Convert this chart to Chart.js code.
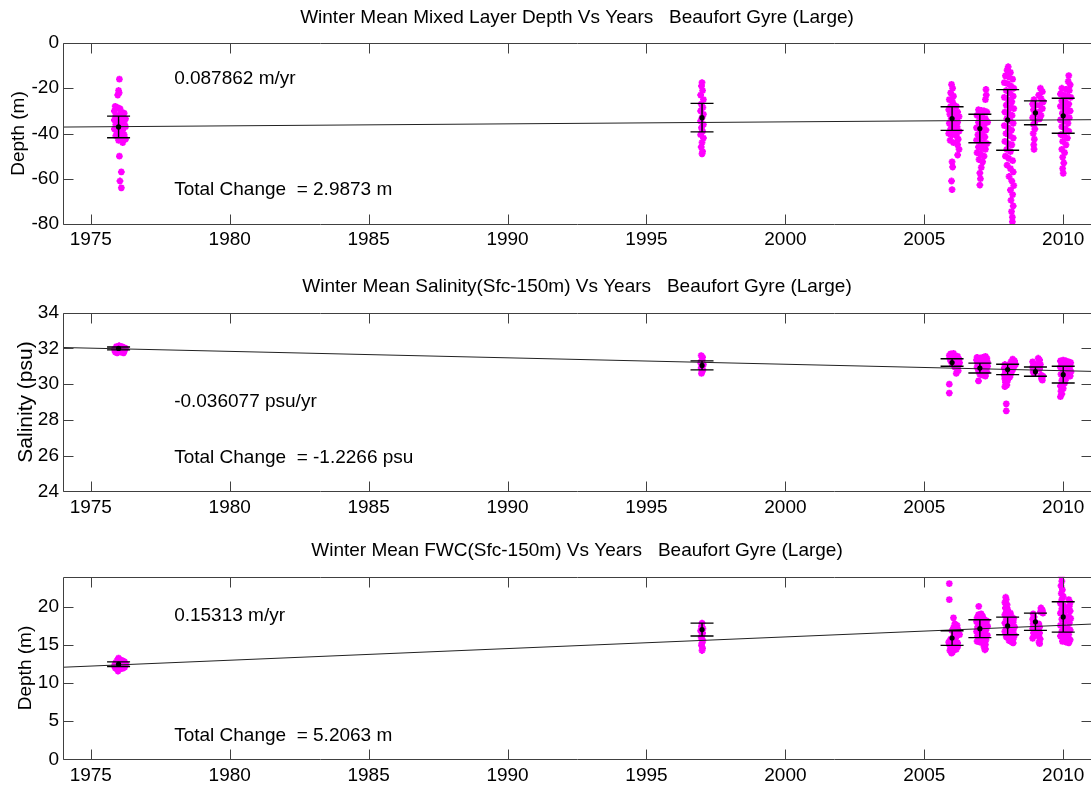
<!DOCTYPE html>
<html><head><meta charset="utf-8">
<script src="https://cdn.jsdelivr.net/npm/chart.js@4.4.1/dist/chart.umd.min.js"></script>
<style>
html,body{margin:0;padding:0;background:#fff;overflow:hidden;}
#wrap{position:relative;width:1091px;height:787px;overflow:hidden;background:#fff;}
canvas{position:absolute;left:0;top:0;}
</style></head><body>
<div id="wrap">
<canvas id="c1" width="1100" height="787"></canvas>
<canvas id="c2" width="1100" height="787"></canvas>
<canvas id="c3" width="1100" height="787"></canvas>
</div>
<script>
// ---------- shared ----------
const xTickValues = [1975,1980,1985,1990,1995,2000,2005,2010];
const meanYears = [1976.0,1997.0,2006.0,2007.0,2008.0,2009.0,2010.0];

// ---------- Mixed layer depth ----------
const mldTitle = 'Winter Mean Mixed Layer Depth Vs Years   Beaufort Gyre (Large)';
const mldYLabel = 'Depth (m)';
const mldTicks = [0,-20,-40,-60,-80];
const mldRateText = '0.087862 m/yr';
const mldTotalText = 'Total Change  = 2.9873 m';
const mldTrendX = [1974, 2011];
const mldTrendY = [-37.15, -33.90];
const mldMean = [-37.1,-33.0,-33.4,-37.8,-34.0,-30.85,-32.15];
const mldStd  = [4.8,6.3,5.2,6.3,13.4,5.25,7.75];
const mld1976 = [[1976.03,-16],[1976.0,-21],[1976.02,-22],[1975.97,-23],[1975.88,-28],[1975.95,-28.5],[1976.05,-29],[1975.85,-30],[1976.1,-30.5],[1976.2,-31],[1975.9,-32],[1976.0,-32],[1976.15,-33],[1976.25,-33.5],[1975.85,-34],[1975.95,-34.5],[1976.05,-35],[1976.2,-35.5],[1975.9,-36],[1976.1,-36.5],[1976.25,-37],[1975.85,-38],[1976.0,-38],[1976.15,-38.5],[1975.95,-39.5],[1976.05,-40],[1976.2,-40.5],[1975.9,-41],[1976.1,-42],[1976.25,-42.5],[1976.0,-43],[1976.15,-44],[1976.03,-50],[1976.1,-57],[1976.05,-61],[1976.1,-64]];
const mld1998 = [[1997.0,-17.5],[1996.98,-19],[1997.02,-21],[1996.95,-23],[1997.05,-25],[1996.97,-27],[1997.03,-28.5],[1996.95,-30],[1997.05,-31.5],[1997.0,-33],[1996.95,-34.5],[1997.05,-36],[1996.98,-37.5],[1997.02,-39],[1996.95,-40.5],[1997.05,-42],[1997.0,-44],[1996.97,-46],[1997.02,-48],[1997.0,-49]];
const mld2006 = [[2005.98,-18.3],[2006.02,-20],[2005.95,-22],[2006.05,-23.5],[2005.9,-25],[2006.0,-25.5],[2006.05,-27],[2005.95,-28],[2006.15,-28],[2005.88,-29.5],[2006.02,-30],[2006.2,-30.5],[2005.92,-31.5],[2006.08,-32],[2006.25,-32.5],[2005.97,-33.5],[2006.12,-34],[2006.2,-35],[2005.9,-35.5],[2006.03,-36],[2006.18,-37],[2005.95,-38],[2006.1,-38.5],[2006.25,-39],[2005.88,-40],[2006.0,-40.5],[2006.15,-41],[2006.22,-42.5],[2005.93,-43],[2006.05,-44],[2006.2,-45],[2006.25,-47],[2006.2,-49.5],[2006.0,-52.5],[2006.02,-54.8],[2005.98,-61],[2006.0,-64.8]];
const mld2007 = [[2007.22,-20.5],[2007.23,-23],[2007.2,-25],[2006.95,-29.5],[2007.05,-29.8],[2007.15,-30],[2007.25,-30.5],[2006.9,-32],[2007.0,-32.5],[2007.1,-33],[2007.2,-33.5],[2006.95,-35],[2007.05,-35.5],[2007.28,-35],[2007.15,-36.5],[2006.88,-37.5],[2007.0,-38],[2007.22,-38.5],[2007.1,-39.5],[2006.93,-40.5],[2007.05,-41],[2007.18,-41.5],[2006.88,-43],[2007.0,-43.5],[2007.12,-44],[2007.25,-44.5],[2006.95,-46],[2007.08,-46.5],[2007.2,-47],[2006.9,-48.5],[2007.02,-49],[2007.15,-50],[2006.97,-51.5],[2007.1,-52.5],[2007.05,-55],[2007.0,-57.5],[2007.02,-60],[2007.0,-62.8]];
const mld2008 = [[2008.02,-10.5],[2007.98,-12],[2008.1,-13],[2007.92,-14.5],[2008.05,-15],[2008.18,-16],[2007.88,-17.5],[2008.0,-18],[2008.12,-19],[2008.22,-20],[2007.95,-21],[2008.08,-22],[2008.2,-23.5],[2007.88,-24],[2008.02,-25],[2008.15,-26],[2007.95,-27.5],[2008.1,-28.5],[2008.22,-29],[2007.9,-30.5],[2008.03,-31],[2008.16,-32],[2007.97,-33.5],[2008.1,-34.5],[2008.2,-35.5],[2007.88,-36.5],[2008.02,-37.5],[2008.14,-38.5],[2007.94,-40],[2008.08,-41],[2008.2,-42],[2007.9,-43.5],[2008.03,-44.5],[2008.15,-45],[2007.97,-47],[2008.1,-48],[2007.92,-50],[2008.04,-51],[2008.18,-52],[2007.98,-54],[2008.1,-55.5],[2008.2,-57],[2008.05,-59],[2008.15,-61],[2008.22,-63],[2008.1,-65],[2008.18,-67],[2008.12,-69.5],[2008.2,-72],[2008.14,-74.5],[2008.17,-77],[2008.17,-79]];
const mld2009 = [[2009.18,-20],[2009.25,-21.5],[2009.12,-23],[2009.2,-24.5],[2009.28,-26],[2008.95,-25],[2008.9,-27],[2009.0,-27.5],[2009.15,-27.5],[2009.25,-29],[2008.93,-29.5],[2009.12,-30.5],[2008.98,-31.5],[2009.2,-32],[2008.9,-33],[2009.15,-33.5],[2009.0,-34.5],[2008.93,-36],[2008.98,-38],[2008.92,-40],[2008.96,-42.5],[2008.94,-45],[2008.95,-47]];
const mld2010 = [[2010.2,-14.4],[2010.18,-17],[2010.25,-18.5],[2009.95,-20],[2010.1,-20.5],[2010.22,-21],[2009.9,-22.5],[2010.02,-23],[2010.15,-23.5],[2010.27,-24],[2009.95,-25.5],[2010.08,-26],[2010.2,-27],[2009.9,-28],[2010.03,-28.5],[2010.15,-29.5],[2010.25,-30],[2009.97,-31],[2010.1,-32],[2010.22,-33],[2009.9,-34],[2010.03,-34.5],[2010.17,-35.5],[2009.95,-37],[2010.08,-38],[2010.2,-39],[2009.92,-40.5],[2010.04,-41],[2010.15,-42],[2009.98,-43.5],[2010.1,-45],[2009.95,-47],[2010.05,-48.5],[2009.98,-50.5],[2010.02,-53],[2009.98,-55.5],[2010.0,-57.6]];

// ---------- Salinity ----------
const salTitle = 'Winter Mean Salinity(Sfc-150m) Vs Years   Beaufort Gyre (Large)';
const salYLabel = 'Salinity (psu)';
const salTicks = [34,32,30,28,26,24];
const salRateText = '-0.036077 psu/yr';
const salTotalText = 'Total Change  = -1.2266 psu';
const salTrendX = [1974, 2011];
const salTrendY = [32.05, 30.715];
const salMean = [32.0,31.05,31.21,30.9,30.82,30.7,30.53];
const salStd  = [0.08,0.25,0.21,0.275,0.29,0.26,0.47];
const sal1976 = [[1975.88,31.8],[1975.95,31.85],[1976.05,31.9],[1976.15,31.85],[1976.22,31.9],[1975.9,32.0],[1976.0,32.05],[1976.1,32.0],[1976.2,32.05],[1975.95,31.75],[1976.08,31.8],[1976.18,31.75],[1975.85,31.95],[1976.25,32.0],[1976.02,32.15],[1976.12,32.1],[1975.92,32.1]];
const sal1998 = [[1996.97,31.6],[1997.02,31.5],[1997.0,31.35],[1996.95,31.2],[1997.05,31.1],[1997.0,31.0],[1996.97,30.9],[1997.03,30.8],[1997.0,30.7],[1996.98,30.6]];
const sal2006 = [[2005.95,31.7],[2006.05,31.72],[2005.9,31.6],[2006.0,31.58],[2006.12,31.6],[2006.2,31.55],[2005.92,31.45],[2006.05,31.45],[2006.15,31.42],[2006.25,31.4],[2005.95,31.3],[2006.1,31.28],[2006.2,31.25],[2006.27,31.2],[2006.0,31.15],[2006.15,31.1],[2006.22,31.05],[2006.1,30.95],[2006.18,30.9],[2006.22,30.75],[2006.15,30.6],[2005.9,30.0],[2005.9,29.5]];
const sal2007 = [[2006.9,31.5],[2007.0,31.45],[2007.1,31.5],[2007.2,31.55],[2007.25,31.45],[2006.88,31.35],[2006.98,31.3],[2007.08,31.35],[2007.18,31.3],[2007.27,31.25],[2006.92,31.15],[2007.02,31.1],[2007.12,31.15],[2007.22,31.1],[2006.9,30.95],[2007.0,30.9],[2007.1,30.95],[2007.2,30.9],[2007.28,31.0],[2006.95,30.75],[2007.05,30.7],[2007.15,30.75],[2007.25,30.7],[2007.0,30.55],[2007.1,30.5],[2007.2,30.45],[2006.95,30.18]];
const sal2008 = [[2008.18,31.4],[2008.25,31.3],[2008.12,31.25],[2008.2,31.15],[2008.28,31.1],[2007.9,31.1],[2008.0,31.05],[2008.1,31.0],[2008.22,30.95],[2007.88,30.9],[2007.98,30.85],[2008.08,30.8],[2008.18,30.8],[2007.92,30.7],[2008.02,30.65],[2008.12,30.6],[2007.88,30.5],[2007.98,30.45],[2008.08,30.4],[2007.9,30.3],[2008.0,30.2],[2007.92,30.1],[2007.97,29.95],[2007.9,29.86],[2007.95,28.9],[2007.95,28.5]];
const sal2009 = [[2008.9,31.25],[2008.95,31.1],[2008.9,30.95],[2008.97,30.85],[2008.92,30.7],[2008.95,30.6],[2009.1,31.45],[2009.15,31.35],[2009.12,31.2],[2009.18,31.1],[2009.1,30.95],[2009.15,30.85],[2009.2,30.5],[2009.27,30.45],[2009.22,30.3],[2009.25,30.22]];
const sal2010 = [[2009.9,31.3],[2010.0,31.35],[2010.1,31.3],[2010.2,31.25],[2010.27,31.2],[2009.95,31.15],[2010.05,31.1],[2010.15,31.05],[2010.25,31.0],[2009.9,30.95],[2010.0,30.9],[2010.1,30.85],[2010.22,30.8],[2010.28,30.7],[2010.05,30.6],[2010.15,30.55],[2010.25,30.45],[2009.92,30.55],[2010.0,30.4],[2010.1,30.3],[2009.95,30.2],[2010.05,30.05],[2009.9,29.9],[2010.0,29.75],[2009.92,29.6],[2009.95,29.45],[2009.9,29.3]];

// ---------- Freshwater content ----------
const fwcTitle = 'Winter Mean FWC(Sfc-150m) Vs Years   Beaufort Gyre (Large)';
const fwcYLabel = 'Depth (m)';
const fwcTicks = [0,5,10,15,20];
const fwcRateText = '0.15313 m/yr';
const fwcTotalText = 'Total Change  = 5.2063 m';
const fwcTrendX = [1974, 2011];
const fwcTrendY = [12.1, 17.77];
const fwcMean = [12.5,17.05,15.94,17.17,17.53,18.08,18.71];
const fwcStd  = [0.3,0.85,0.96,1.18,1.155,1.13,1.99];
const fwc1976 = [[1975.88,12.0],[1975.95,11.9],[1976.05,11.85],[1976.15,11.95],[1976.22,12.1],[1975.85,12.3],[1975.92,12.4],[1976.0,12.3],[1976.1,12.45],[1976.2,12.35],[1976.27,12.5],[1975.9,12.7],[1976.02,12.75],[1976.12,12.7],[1976.22,12.8],[1975.95,13.0],[1976.05,13.1],[1976.15,12.95],[1976.0,13.3],[1975.98,11.6]];
const fwc1998 = [[1997.0,17.9],[1996.98,17.5],[1997.03,17.2],[1996.95,16.9],[1997.02,16.6],[1997.0,16.3],[1996.97,16.0],[1997.03,15.6],[1997.0,15.3],[1996.98,15.0],[1997.02,14.6],[1997.0,14.3]];
const fwc2006 = [[2005.9,23.1],[2005.9,21.0],[2006.05,18.6],[2006.1,17.8],[2006.18,17.6],[2006.05,17.3],[2006.15,17.2],[2006.22,17.0],[2006.0,16.9],[2006.1,16.7],[2006.2,16.6],[2006.27,16.4],[2006.05,16.2],[2006.15,16.1],[2005.95,15.8],[2006.05,15.6],[2006.12,15.5],[2006.2,15.3],[2005.88,15.4],[2005.9,15.1],[2006.0,15.0],[2006.1,14.9],[2006.2,14.8],[2005.95,14.6],[2006.05,14.5],[2006.15,14.45],[2005.92,14.3],[2006.02,14.1],[2005.98,13.95]];
const fwc2007 = [[2006.96,20.1],[2006.95,19.0],[2007.05,19.1],[2007.1,18.8],[2006.9,18.6],[2007.0,18.5],[2007.15,18.4],[2007.25,18.2],[2006.88,18.1],[2006.98,17.9],[2007.08,17.8],[2007.2,17.7],[2007.28,17.5],[2006.92,17.4],[2007.02,17.3],[2007.12,17.2],[2007.22,17.0],[2006.88,16.8],[2006.98,16.7],[2007.08,16.6],[2007.18,16.5],[2007.27,16.3],[2006.92,16.2],[2007.02,16.0],[2007.12,15.9],[2007.22,15.7],[2006.9,15.5],[2007.0,15.4],[2007.1,15.3],[2007.2,15.1],[2007.15,14.8],[2007.2,14.5],[2007.18,14.4]];
const fwc2008 = [[2007.93,21.3],[2007.95,21.0],[2007.9,20.6],[2007.98,20.3],[2007.92,19.9],[2008.0,19.7],[2007.95,19.4],[2008.1,19.2],[2007.9,19.0],[2008.02,18.8],[2008.15,18.7],[2008.22,18.5],[2007.95,18.4],[2008.08,18.2],[2008.2,18.0],[2007.9,17.9],[2008.03,17.7],[2008.15,17.6],[2008.25,17.4],[2007.95,17.3],[2008.08,17.1],[2008.2,16.9],[2007.9,16.8],[2008.02,16.6],[2008.15,16.5],[2008.25,16.3],[2007.95,16.1],[2008.1,16.0],[2008.2,15.8],[2008.05,15.6],[2008.15,15.4],[2008.2,15.3]];
const fwc2009 = [[2008.92,19.1],[2008.95,18.7],[2008.9,18.4],[2008.97,18.1],[2008.92,17.8],[2008.95,17.5],[2008.9,17.2],[2008.97,16.9],[2008.93,16.6],[2008.95,16.2],[2008.9,15.9],[2009.2,19.9],[2009.25,19.6],[2009.18,19.4],[2009.27,19.2],[2009.12,17.8],[2009.15,17.4],[2009.1,17.0],[2009.15,16.6],[2009.12,16.2],[2009.17,15.8],[2009.13,15.4],[2009.15,15.2]];
const fwc2010 = [[2009.93,24.1],[2009.95,23.4],[2009.92,22.8],[2009.97,22.3],[2009.93,21.8],[2010.0,21.4],[2009.95,21.0],[2010.2,21.0],[2010.25,20.6],[2009.9,20.5],[2010.02,20.2],[2010.22,20.1],[2009.95,19.8],[2010.1,19.6],[2010.25,19.5],[2009.9,19.2],[2010.05,19.0],[2010.2,18.8],[2010.27,18.5],[2009.95,18.4],[2010.1,18.2],[2010.22,17.9],[2009.9,17.6],[2010.02,17.4],[2010.15,17.2],[2010.25,17.0],[2009.95,16.8],[2010.08,16.6],[2010.2,16.4],[2009.9,16.2],[2010.02,16.0],[2010.15,15.9],[2010.25,15.7],[2009.97,15.5],[2010.1,15.4],[2010.2,15.3]];

// ---------- drawing ----------
const FONT = '"Liberation Sans", Arial, Helvetica, sans-serif';
const FS = 19;

const matlabAxes = {
  id: 'matlabAxes',
  afterDatasetsDraw(chart) {
    const o = chart.options.plugins.matlabAxes;
    const {ctx, chartArea: a} = chart;
    const xs = chart.scales.x, ys = chart.scales.y;
    ctx.save();
    // error bars
    ctx.strokeStyle = '#000';
    ctx.lineWidth = 1.4;
    ctx.beginPath();
    o.meanX.forEach((mx, i) => {
      const px = xs.getPixelForValue(mx);
      const t = ys.getPixelForValue(o.mean[i] + o.std[i]);
      const b = ys.getPixelForValue(o.mean[i] - o.std[i]);
      ctx.moveTo(px, t); ctx.lineTo(px, b);
      ctx.moveTo(px - 11.5, t); ctx.lineTo(px + 11.5, t);
      ctx.moveTo(px - 11.5, b); ctx.lineTo(px + 11.5, b);
    });
    ctx.stroke();
    // box and ticks
    ctx.strokeStyle = '#404040';
    ctx.lineWidth = 1;
    ctx.beginPath();
    const L = Math.round(a.left) + 0.5, R = Math.round(a.right) + 0.5;
    const T = Math.round(a.top) + 0.5, B = Math.round(a.bottom) + 0.5;
    ctx.rect(L, T, R - L, B - T);
    xs.ticks.forEach(tk => {
      const p = Math.round(xs.getPixelForValue(tk.value)) + 0.5;
      ctx.moveTo(p, B); ctx.lineTo(p, B - 10);
      ctx.moveTo(p, T); ctx.lineTo(p, T + 10);
    });
    ys.ticks.forEach(tk => {
      const p = Math.round(ys.getPixelForValue(tk.value)) + 0.5;
      ctx.moveTo(L, p); ctx.lineTo(L + 10, p);
      ctx.moveTo(R, p); ctx.lineTo(R - 10, p);
    });
    ctx.stroke();
    // annotations
    ctx.fillStyle = '#000';
    ctx.font = FS + 'px ' + FONT;
    ctx.textBaseline = 'middle';
    ctx.textAlign = 'left';
    o.notes.forEach(n => ctx.fillText(n.text, xs.getPixelForValue(n.x), ys.getPixelForValue(n.y)));
    // title
    ctx.textAlign = 'center';
    ctx.fillText(o.title, (a.left + a.right) / 2, a.top - 25.5);
    ctx.restore();
  }
};

function pts(groups) {
  const out = [];
  groups.forEach(g => g.forEach(p => out.push({x: p[0], y: p[1]})));
  return out;
}

function makeChart(id, s) {
  return new Chart(document.getElementById(id), {
    type: 'scatter',
    plugins: [matlabAxes],
    data: {
      datasets: [
        { data: meanYears.map((x, i) => ({x, y: s.mean[i]})), pointStyle: 'circle', pointRadius: 2.6,
          backgroundColor: '#000', borderColor: '#000', borderWidth: 0 },
        { data: s.trendX.map((x, i) => ({x, y: s.trendY[i]})), showLine: true, borderColor: '#222',
          borderWidth: 1, pointRadius: 0, fill: false },
        { data: pts(s.points), pointStyle: 'star', pointRadius: 3.4, borderColor: '#ff00ff',
          backgroundColor: '#ff00ff', borderWidth: 2 }
      ]
    },
    options: {
      responsive: false, animation: false, devicePixelRatio: 1,
      events: [],
      layout: { padding: { top: s.padTop, bottom: s.padBottom, left: 0, right: 9 } },
      plugins: {
        legend: { display: false }, tooltip: { enabled: false },
        matlabAxes: { meanX: meanYears, mean: s.mean, std: s.std, title: s.title, notes: s.notes }
      },
      scales: {
        x: {
          type: 'linear', min: 1974, max: 2011,
          afterBuildTicks: sc => { sc.ticks = xTickValues.map(v => ({value: v})); },
          afterFit: sc => { sc.height = 27; },
          ticks: { callback: v => String(v), padding: 4.6, color: '#000', maxRotation: 0, autoSkip: false,
                   font: { family: FONT, size: FS } },
          grid: { display: false, drawTicks: false }, border: { display: false }
        },
        y: {
          type: 'linear', min: s.yMin, max: s.yMax,
          afterBuildTicks: sc => { sc.ticks = s.yTicks.map(v => ({value: v})); },
          afterFit: sc => { sc.width = 63; },
          ticks: { callback: v => String(v), padding: 4, color: '#000', autoSkip: false,
                   font: { family: FONT, size: FS } },
          title: { display: true, text: s.yLabel, color: '#000', font: { family: FONT, size: s.yTitleSize },
                   padding: { top: s.yTitlePad, bottom: 0 } },
          grid: { display: false, drawTicks: false }, border: { display: false }
        }
      }
    }
  });
}

makeChart('c1', {
  title: mldTitle, yLabel: mldYLabel, yTicks: mldTicks, yMin: -80, yMax: 0,
  padTop: 43, padBottom: 536, yTitlePad: 7.6, yTitleSize: 19,
  trendX: mldTrendX, trendY: mldTrendY, mean: mldMean, std: mldStd,
  points: [mld1976, mld1998, mld2006, mld2007, mld2008, mld2009, mld2010],
  notes: [{text: mldRateText, x: 1978, y: -15.7}, {text: mldTotalText, x: 1978, y: -65}]
});
makeChart('c2', {
  title: salTitle, yLabel: salYLabel, yTicks: salTicks, yMin: 24, yMax: 34,
  padTop: 312.7, padBottom: 268.7, yTitlePad: 14, yTitleSize: 21,
  trendX: salTrendX, trendY: salTrendY, mean: salMean, std: salStd,
  points: [sal1976, sal1998, sal2006, sal2007, sal2008, sal2009, sal2010],
  notes: [{text: salRateText, x: 1978, y: 29.0}, {text: salTotalText, x: 1978, y: 25.9}]
});
makeChart('c3', {
  title: fwcTitle, yLabel: fwcYLabel, yTicks: fwcTicks, yMin: 0, yMax: 24,
  padTop: 576.7, padBottom: 0.7, yTitlePad: 14.6, yTitleSize: 19,
  trendX: fwcTrendX, trendY: fwcTrendY, mean: fwcMean, std: fwcStd,
  points: [fwc1976, fwc1998, fwc2006, fwc2007, fwc2008, fwc2009, fwc2010],
  notes: [{text: fwcRateText, x: 1978, y: 18.8}, {text: fwcTotalText, x: 1978, y: 3.05}]
});
</script>
</body></html>
